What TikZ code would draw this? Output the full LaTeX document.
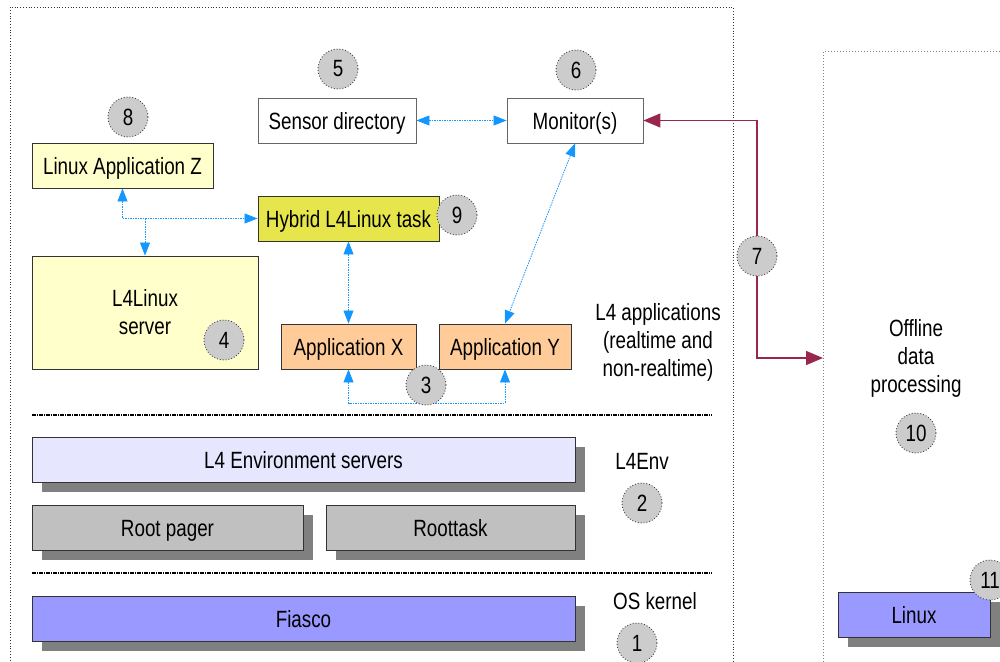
\documentclass[tikz,border=0pt]{standalone}
\usepackage{fontspec}
\setmainfont{Liberation Sans}[FakeStretch=0.8]
\usetikzlibrary{arrows.meta,shadows}
\definecolor{bl}{RGB}{20,150,255}
\definecolor{rd}{RGB}{153,38,76}
\definecolor{lyel}{RGB}{255,255,204}
\definecolor{hyb}{RGB}{230,230,76}
\definecolor{org}{RGB}{255,204,153}
\definecolor{lav}{RGB}{230,230,255}
\definecolor{rgray}{RGB}{192,192,192}
\definecolor{fia}{RGB}{153,153,255}
\definecolor{shd}{RGB}{128,128,128}
\definecolor{cgray}{RGB}{204,204,204}
\tikzset{
  basebox/.style={draw=black!80,line width=0.9pt,minimum height=45pt,inner sep=0pt,
    font=\fontsize{23.5}{28}\selectfont,align=center},
  box/.style={basebox,text height=19pt,text depth=2pt},
  wbox/.style={box,draw=black!60,fill=white},
  shbox/.style={box,drop shadow={shadow xshift=10pt,shadow yshift=-10pt,fill=shd,opacity=1}},
  num/.style={circle,draw=black!75,dotted,line width=0.9pt,fill=cgray,minimum size=40pt,inner sep=0pt,
    font=\fontsize{23.5}{28}\selectfont},
  lbl/.style={font=\fontsize{23.5}{28}\selectfont,align=center},
  barr/.style={draw=bl,line width=0.8pt,dash pattern=on 1.5pt off 1pt,
    {Triangle[length=13pt,width=10pt,fill=bl]}-{Triangle[length=13pt,width=10pt,fill=bl]}},
  barrend/.style={draw=bl,line width=0.8pt,dash pattern=on 1.5pt off 1pt,
    -{Triangle[length=13pt,width=10pt,fill=bl]}},
  rarr/.style={draw=rd,line width=1.4pt,
    {Triangle[length=17pt,width=14pt]}-{Triangle[length=17pt,width=14pt]}},
  sep/.style={line width=1.8pt,dash pattern=on 4pt off 1pt on 1pt off 1pt},
}
\begin{document}
\begin{tikzpicture}[x=1pt,y=-1pt]
\useasboundingbox (0,0) rectangle (1000,661);
\clip (0,0) rectangle (1000,661);
% frames
\draw[black!80,dotted,line width=0.8pt] (10,680) -- (10,7) -- (733,7) -- (733,680);
\draw[black!50,dotted,line width=1pt] (823,680) -- (823,52) -- (1020,52);
% separators
\draw[sep] (32,415) -- (712,415);
\draw[sep] (32,573) -- (712,573);
% boxes
\node[wbox,minimum width=158pt] (sensor) at (337,120.5) {Sensor directory};
\node[wbox,minimum width=136pt] (monitor) at (575,120.5) {Monitor(s)};
\node[box,fill=lyel,minimum width=181pt] (appz) at (122.5,165.5) {Linux Application Z};
\node[box,fill=hyb,minimum width=181pt] (hybrid) at (348.5,218.5) {Hybrid L4Linux task};
\node[basebox,fill=lyel,minimum width=226pt,minimum height=113pt] (l4linux) at (145,312.5) {L4Linux\\server};
\node[box,fill=org,minimum width=135pt] (appx) at (348.5,346.5) {Application X};
\node[box,fill=org,minimum width=132pt] (appy) at (505,346.5) {Application Y};
\node[shbox,fill=lav,minimum width=543pt] (l4env) at (303.5,459.5) {L4 Environment servers};
\node[shbox,fill=rgray,minimum width=271pt] (rootpager) at (167.5,527.5) {Root pager};
\node[shbox,fill=rgray,minimum width=249pt] (roottask) at (450.5,527.5) {Roottask};
\node[shbox,fill=fia,minimum width=543pt] (fiasco) at (303.5,618.5) {Fiasco};
\node[shbox,fill=fia,minimum width=152pt] (linux) at (914,614.5) {Linux};
% labels
\node[lbl] (l4apps) at (658,342) {L4 applications\\(realtime and\\non-realtime)};
\node[lbl] (l4envlbl) at (642,461) {L4Env};
\node[lbl] (oskern) at (655,601) {OS kernel};
\node[lbl] (offline) at (916,358) {Offline\\data\\processing};
% connectors
\coordinate (ja) at (145,218.5);
\coordinate (bus) at (430,403);
\coordinate (c7) at (757,256);
\coordinate (offin) at (823,358);
\draw[barr] (sensor) -- (monitor);
\draw[barr] (appz.south) |- (hybrid.west);
\draw[barrend] (ja) -- (l4linux.north);
\draw[barr] (hybrid.south) -- (appx.north);
\draw[barr] (monitor.south) -- (appy.north);
\draw[barr] (appx.south) |- (bus) -| (appy.south);
\draw[rarr] (monitor.east) -| (c7) |- (offin);
% numbers
\node[num] (n1) at (637,643) {1};
\node[num] (n2) at (642,503) {2};
\node[num] (n3) at (426,385) {3};
\node[num] (n4) at (224,340) {4};
\node[num] (n5) at (338,69) {5};
\node[num] (n6) at (576,70) {6};
\node[num] (n7) at (c7) {7};
\node[num] (n8) at (128,117) {8};
\node[num] (n9) at (457,215) {9};
\node[num] (n10) at (916,433) {10};
\node[num] (n11) at (990,580) {11};
\end{tikzpicture}
\end{document}
